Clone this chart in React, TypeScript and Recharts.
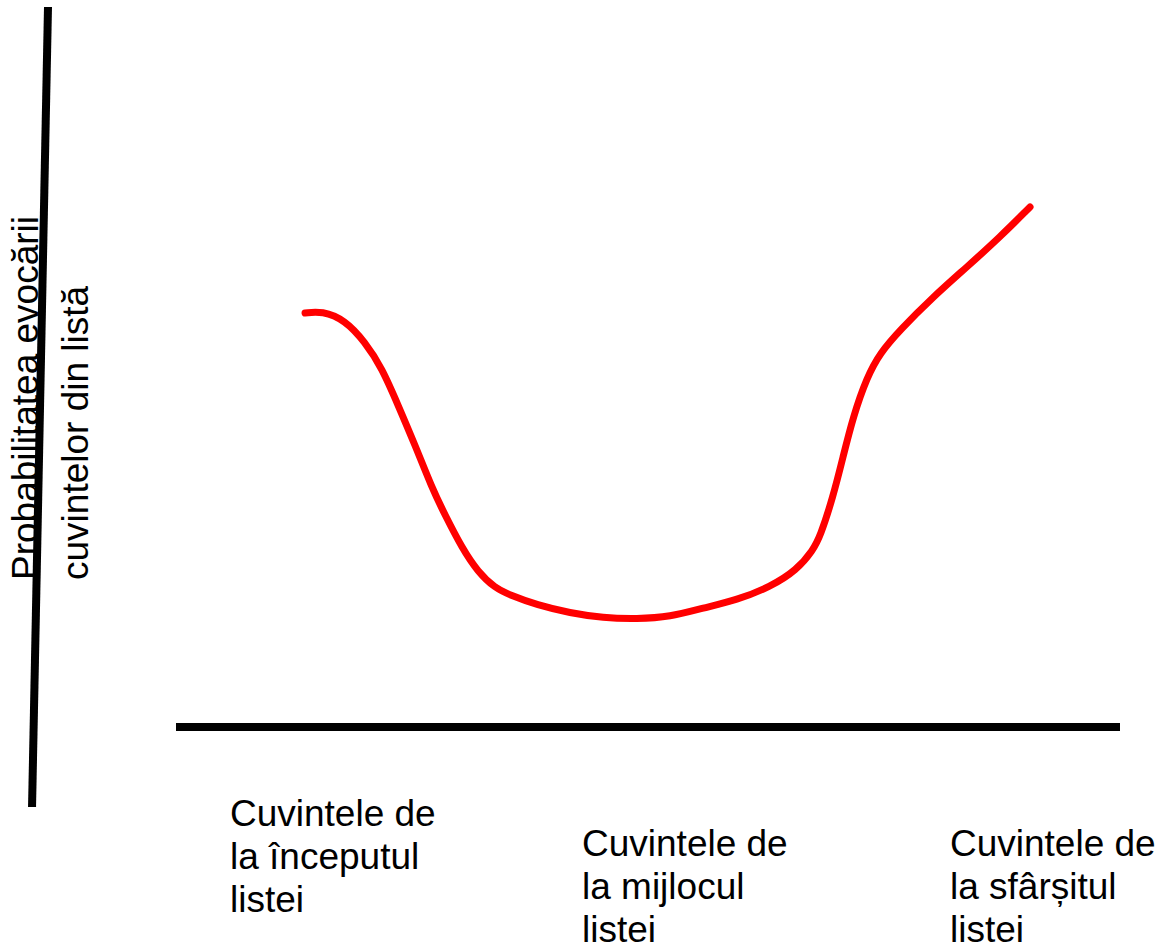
import React from 'react';
import { ComposedChart, Line, XAxis, YAxis, ReferenceLine, Customized } from 'recharts';

// Serial position in list (0–100 across the axis) and recall probability (0–100)
const listPosition = [
  13.67, 15.47, 17.9, 20.02, 21.82, 23.52, 25.32, 27.12, 28.5, 30.3, 31.99, 33.79,
  35.38, 38.24, 41.74, 45.23, 48.83, 52.33, 55.83, 59.43, 62.92, 65.78, 67.48,
  68.22, 69.6, 70.66, 71.72, 73.2, 74.58, 76.69, 80.19, 83.79, 87.29, 90.47,
];
const recallProbability = [
  57.5, 57.78, 56.53, 53.47, 49.86, 44.72, 39.17, 33.19, 29.44, 24.86, 21.53, 19.31,
  18.33, 16.94, 15.83, 15.14, 15.0, 15.28, 16.53, 17.64, 19.44, 21.81, 24.58,
  26.39, 31.94, 37.5, 43.06, 48.61, 51.94, 55.14, 59.72, 63.89, 68.06, 72.22,
];

const categoryPositions = [5.72, 43.01, 81.99];
const categoryLabels = [
  ['Cuvintele de', 'la începutul', 'listei'],
  ['Cuvintele de', 'la mijlocul', 'listei'],
  ['Cuvintele de', 'la sfârșitul', 'listei'],
];
const yAxisTitle = ['Probabilitatea evocării', 'cuvintelor din listă'];

// hand-drawn slanted vertical axis end points (data coordinates)
const yAxisStart = { x: -13.56, y: 100 };
const yAxisEnd = { x: -15.25, y: -11.11 };

const data = listPosition.map((p, i) => ({ pos: p, recall: recallProbability[i] }));

const FONT = '"Liberation Sans", Arial, sans-serif';
const FS = 37;

const CategoryTick = (props: any) => {
  const { x, y, payload, index } = props;
  const idx = categoryPositions.indexOf(payload.value);
  const lines = categoryLabels[idx >= 0 ? idx : index] || [];
  const top = y + (idx === 0 ? 99 : 129);
  return (
    <text x={x} y={top} textAnchor="start" fontFamily={FONT} fontSize={FS} fill="#000">
      {lines.map((l, i) => (
        <tspan key={i} x={x} y={top + i * 43}>
          {l}
        </tspan>
      ))}
    </text>
  );
};

const YTitle = () => (
  <g>
    {yAxisTitle.map((t, i) => {
      const bx = i === 0 ? 38 : 88;
      const by = 580;
      return (
        <text
          key={i}
          x={bx}
          y={by}
          transform={`rotate(-90, ${bx}, ${by})`}
          textAnchor="start"
          fontFamily={FONT}
          fontSize={FS}
          fill="#000"
        >
          {t}
        </text>
      );
    })}
  </g>
);

export default function App() {
  return (
    <div style={{ position: 'absolute', left: 0, top: 0, background: '#fff' }}>
      <ComposedChart
        width={1158}
        height={945}
        data={data}
        margin={{ top: 7, right: 38, left: 176, bottom: 0 }}
      >
        <XAxis
          dataKey="pos"
          type="number"
          domain={[0, 100]}
          ticks={categoryPositions}
          tick={<CategoryTick />}
          tickLine={false}
          tickSize={0}
          tickMargin={0}
          height={218}
          axisLine={{ stroke: '#000', strokeWidth: 8 }}
          interval={0}
        />
        <YAxis type="number" domain={[0, 100]} hide width={0} />
        <ReferenceLine
          segment={[yAxisStart, yAxisEnd]}
          stroke="#000"
          strokeWidth={8}
          ifOverflow="visible"
        />
        <Line
          dataKey="recall"
          type="basis"
          stroke="#ff0000"
          strokeWidth={7}
          strokeLinecap="round"
          dot={false}
          activeDot={false}
          isAnimationActive={false}
        />
        <Customized component={<YTitle />} />
      </ComposedChart>
    </div>
  );
}
